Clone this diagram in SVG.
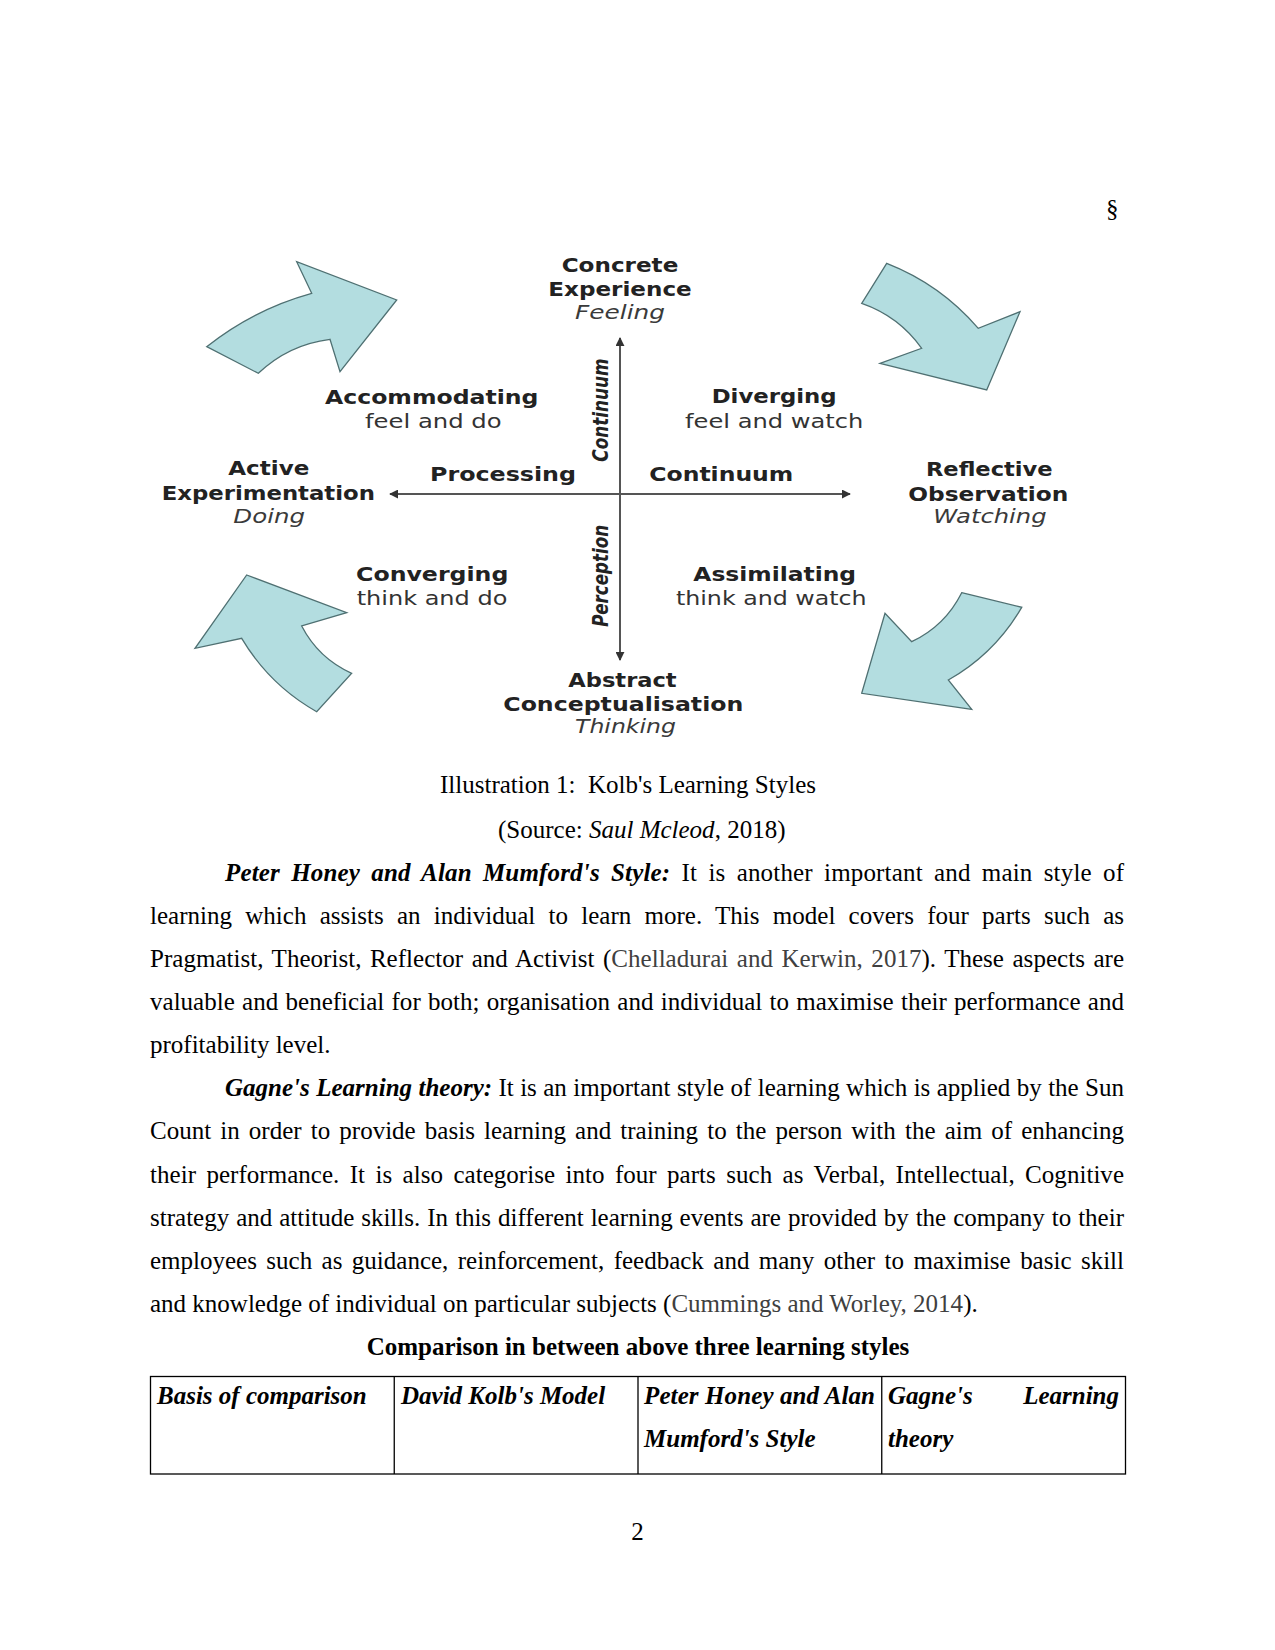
<svg xmlns="http://www.w3.org/2000/svg" width="1275" height="1650" viewBox="0 0 1275 1650">
<style>
.body{font-family:"Liberation Serif",serif;font-size:25px;fill:#000}
.bi{font-weight:bold;font-style:italic}
.b{font-weight:bold}
.it{font-style:italic}
.cite{fill:#404040}
.dl{font-family:"DejaVu Sans",sans-serif;font-size:19.5px;font-weight:bold;fill:#222;text-anchor:middle}
.dr{font-family:"DejaVu Sans",sans-serif;font-size:19.5px;fill:#333;text-anchor:middle}
.di{font-family:"DejaVu Sans",sans-serif;font-size:19.5px;font-style:italic;fill:#3a3a3a;text-anchor:middle}
.dv{font-family:"DejaVu Sans",sans-serif;font-size:16.5px;font-weight:bold;font-style:italic;fill:#222;text-anchor:middle}
.arrow{fill:#b3dde0;stroke:#4f7072;stroke-width:1.3;stroke-linejoin:miter}
.axis{stroke:#555;stroke-width:2;fill:none}
.cell{fill:none;stroke:#000;stroke-width:1.3}
</style>
<defs>
<marker id="ah" viewBox="0 0 10 10" refX="9" refY="5" markerWidth="4.5" markerHeight="4.5" orient="auto-start-reverse" markerUnits="strokeWidth">
<path d="M0,0 L10,5 L0,10 Z" fill="#333"/>
</marker>
</defs>
<rect width="1275" height="1650" fill="#fff"/>

<text class="body" x="1106" y="217">§</text>

<!-- Kolb diagram -->
<g id="cycle-arrows">
<path id="arrow-ul" class="arrow" d="M206.7,346.7 Q253.8,309.3 311.7,293.3 L296.7,261.7 L396.7,300 L340,371.7 L330,339.3 Q288.6,344.5 258.3,373.3 Z"/>
<path id="arrow-ur" class="arrow" d="M886.7,263.3 Q940.6,284.4 978.3,328.3 L1020,311.7 L986.7,390 L880,363.3 L921.7,348.3 Q898.9,316.2 861.7,303.3 Z"/>
<path id="arrow-ll" class="arrow" d="M246.7,575 L346.7,612.7 L301.7,626 Q318.5,658.4 351.7,673.3 L316.7,711.7 Q269.4,685 241.7,638.3 L195,648.3 Z"/>
<path id="arrow-lr" class="arrow" d="M961.7,592.7 L1021.7,607.3 Q994.9,653.6 948.3,680 L971.7,709.3 L861.7,693.3 L885,613.3 L911.7,641.7 Q945.1,625.8 961.7,592.7 Z"/>
</g>

<g id="connectors">
<line class="axis" x1="620" y1="494" x2="620" y2="338" marker-end="url(#ah)"/>
<line class="axis" x1="620" y1="494" x2="620" y2="660" marker-end="url(#ah)"/>
<line class="axis" x1="620" y1="494" x2="390" y2="494" marker-end="url(#ah)"/>
<line class="axis" x1="620" y1="494" x2="850" y2="494" marker-end="url(#ah)"/>
</g>

<g id="concrete-experience">
<text class="dl" x="620" y="271.7" textLength="116.6" lengthAdjust="spacingAndGlyphs">Concrete</text>
<text class="dl" x="620" y="296" textLength="143.4" lengthAdjust="spacingAndGlyphs">Experience</text>
<text class="di" x="620" y="318.5" textLength="90" lengthAdjust="spacingAndGlyphs">Feeling</text>
</g>
<g id="accommodating">
<text class="dl" x="431.7" y="404" textLength="213.3" lengthAdjust="spacingAndGlyphs">Accommodating</text>
<text class="dr" x="433.3" y="428.3" textLength="136.7" lengthAdjust="spacingAndGlyphs">feel and do</text>
</g>
<g id="diverging">
<text class="dl" x="774.2" y="403.3" textLength="125" lengthAdjust="spacingAndGlyphs">Diverging</text>
<text class="dr" x="774.2" y="428.3" textLength="178.3" lengthAdjust="spacingAndGlyphs">feel and watch</text>
</g>
<g id="active-experimentation">
<text class="dl" x="268.8" y="475" textLength="81" lengthAdjust="spacingAndGlyphs">Active</text>
<text class="dl" x="268.3" y="500" textLength="213.3" lengthAdjust="spacingAndGlyphs">Experimentation</text>
<text class="di" x="269.2" y="522.7" textLength="71.7" lengthAdjust="spacingAndGlyphs">Doing</text>
</g>
<g id="processing-continuum">
<text class="dl" x="503" y="480.7" textLength="146" lengthAdjust="spacingAndGlyphs">Processing</text>
<text class="dl" x="721.3" y="480.7" textLength="144" lengthAdjust="spacingAndGlyphs">Continuum</text>
</g>
<g id="perception-continuum">
<text class="dv" transform="translate(608 410) scale(1.3 1) rotate(-90)" x="0" y="0" textLength="103.3" lengthAdjust="spacingAndGlyphs">Continuum</text>
<text class="dv" transform="translate(608 575.8) scale(1.3 1) rotate(-90)" x="0" y="0" textLength="101.7" lengthAdjust="spacingAndGlyphs">Perception</text>
</g>
<g id="reflective-observation">
<text class="dl" x="989.3" y="476" textLength="126.7" lengthAdjust="spacingAndGlyphs">Reflective</text>
<text class="dl" x="988.3" y="500.7" textLength="160" lengthAdjust="spacingAndGlyphs">Observation</text>
<text class="di" x="990" y="523" textLength="113.3" lengthAdjust="spacingAndGlyphs">Watching</text>
</g>
<g id="converging">
<text class="dl" x="432.2" y="581" textLength="152.3" lengthAdjust="spacingAndGlyphs">Converging</text>
<text class="dr" x="432" y="605" textLength="150.7" lengthAdjust="spacingAndGlyphs">think and do</text>
</g>
<g id="assimilating">
<text class="dl" x="774.7" y="581" textLength="162.7" lengthAdjust="spacingAndGlyphs">Assimilating</text>
<text class="dr" x="771.3" y="605" textLength="190.7" lengthAdjust="spacingAndGlyphs">think and watch</text>
</g>
<g id="abstract-conceptualisation">
<text class="dl" x="622.5" y="686.7" textLength="108.3" lengthAdjust="spacingAndGlyphs">Abstract</text>
<text class="dl" x="623.3" y="710.7" textLength="240" lengthAdjust="spacingAndGlyphs">Conceptualisation</text>
<text class="di" x="625.5" y="733.3" textLength="101" lengthAdjust="spacingAndGlyphs">Thinking</text>
</g>

<!-- Caption -->
<text class="body" x="440" y="793" xml:space="preserve">Illustration 1:  Kolb's Learning Styles</text>
<text class="body" x="498" y="838">(Source: <tspan class="it">Saul Mcleod</tspan>, 2018)</text>

<!-- Paragraph 1 -->
<text class="body" x="225" y="881" word-spacing="4.8" textLength="899" lengthAdjust="spacing"><tspan class="bi">Peter Honey and Alan Mumford's Style:</tspan> It is another important and main style of</text>
<text class="body" x="150" y="924" word-spacing="7" textLength="974" lengthAdjust="spacing">learning which assists an individual to learn more. This model covers four parts such as</text>
<text class="body" x="150" y="967" word-spacing="2.2" textLength="974" lengthAdjust="spacing">Pragmatist, Theorist, Reflector and Activist (<tspan class="cite">Chelladurai and Kerwin, 2017</tspan>). These aspects are</text>
<text class="body" x="150" y="1010" word-spacing="1" textLength="974" lengthAdjust="spacing">valuable and beneficial for both; organisation and individual to maximise their performance and</text>
<text class="body" x="150" y="1053">profitability level.</text>

<!-- Paragraph 2 -->
<text class="body" x="225" y="1096" word-spacing="0.15" textLength="899" lengthAdjust="spacing"><tspan class="bi">Gagne's Learning theory:</tspan> It is an important style of learning which is applied by the Sun</text>
<text class="body" x="150" y="1139" word-spacing="2.9" textLength="974" lengthAdjust="spacing">Count in order to provide basis learning and training to the person with the aim of enhancing</text>
<text class="body" x="150" y="1182.5" word-spacing="4.1" textLength="974" lengthAdjust="spacing">their performance. It is also categorise into four parts such as Verbal, Intellectual, Cognitive</text>
<text class="body" x="150" y="1226" word-spacing="0.65" textLength="974" lengthAdjust="spacing">strategy and attitude skills. In this different learning events are provided by the company to their</text>
<text class="body" x="150" y="1269" word-spacing="3.2" textLength="974" lengthAdjust="spacing">employees such as guidance, reinforcement, feedback and many other to maximise basic skill</text>
<text class="body" x="150" y="1312">and knowledge of individual on particular subjects (<tspan class="cite">Cummings and Worley, 2014</tspan>).</text>

<text class="body b" x="638" y="1355" text-anchor="middle">Comparison in between above three learning styles</text>

<!-- Table -->
<g id="table">
<rect class="cell" x="150.5" y="1376.5" width="975" height="97.5"/>
<line class="cell" x1="394.25" y1="1376.5" x2="394.25" y2="1474"/>
<line class="cell" x1="638" y1="1376.5" x2="638" y2="1474"/>
<line class="cell" x1="881.75" y1="1376.5" x2="881.75" y2="1474"/>
<text class="body bi" x="157" y="1403.5">Basis of comparison</text>
<text class="body bi" x="401" y="1403.5">David Kolb's Model</text>
<text class="body bi" x="644" y="1403.5" textLength="231" lengthAdjust="spacing">Peter Honey and Alan</text>
<text class="body bi" x="644" y="1447">Mumford's Style</text>
<text class="body bi" x="888" y="1403.5">Gagne's</text>
<text class="body bi" x="1119" y="1403.5" text-anchor="end">Learning</text>
<text class="body bi" x="888" y="1447">theory</text>
</g>

<text class="body" x="637.5" y="1540" text-anchor="middle">2</text>
</svg>
